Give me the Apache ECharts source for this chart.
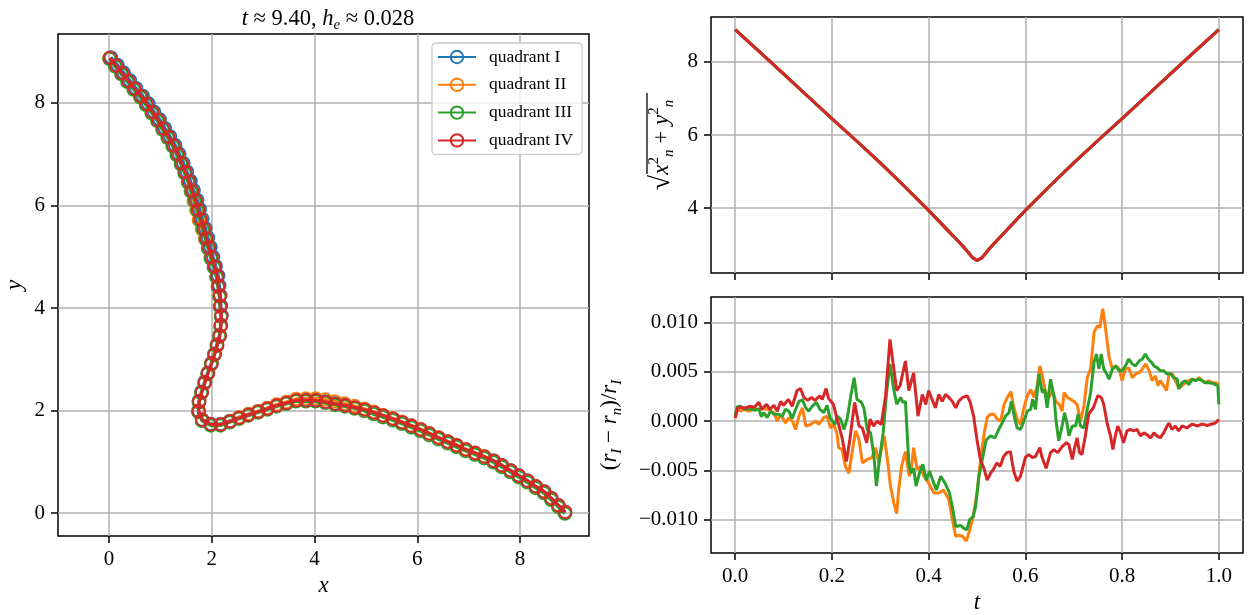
<!DOCTYPE html>
<html><head><meta charset="utf-8">
<script src="https://cdn.jsdelivr.net/npm/echarts@6/dist/echarts.min.js"></script>
<style>html,body{margin:0;padding:0;background:#fff}#c{width:1259px;height:615px}</style>
</head><body><div id="c"></div>
<script>
// ---- trajectory markers (x, y) per quadrant ----
const quadI = [[0.04,8.89],[0.17,8.74],[0.29,8.59],[0.41,8.44],[0.53,8.29],[0.66,8.14],[0.77,7.99],[0.88,7.83],[0.99,7.68],[1.09,7.51],[1.19,7.35],[1.29,7.18],[1.37,7.01],[1.45,6.83],[1.52,6.66],[1.59,6.48],[1.65,6.30],[1.72,6.11],[1.77,5.93],[1.82,5.74],[1.88,5.56],[1.93,5.37],[1.98,5.19],[2.03,5.00],[2.08,4.82],[2.13,4.63],[2.15,4.44],[2.17,4.25],[2.18,4.05],[2.19,3.86],[2.18,3.67],[2.15,3.47],[2.10,3.29],[2.05,3.11],[1.99,2.93],[1.92,2.74],[1.86,2.56],[1.80,2.37],[1.75,2.19],[1.74,2.00],[1.81,1.83],[1.98,1.74],[2.17,1.74],[2.35,1.80],[2.53,1.87],[2.71,1.93],[2.90,1.99],[3.08,2.05],[3.26,2.11],[3.45,2.16],[3.64,2.21],[3.83,2.21],[4.02,2.21],[4.21,2.18],[4.40,2.14],[4.59,2.11],[4.78,2.07],[4.97,2.03],[5.15,1.97],[5.33,1.91],[5.52,1.85],[5.70,1.78],[5.88,1.71],[6.06,1.64],[6.23,1.56],[6.41,1.48],[6.59,1.40],[6.76,1.33],[6.94,1.25],[7.12,1.18],[7.30,1.11],[7.48,1.03],[7.64,0.94],[7.81,0.84],[7.97,0.74],[8.14,0.64],[8.30,0.53],[8.46,0.43],[8.60,0.30],[8.74,0.16],[8.87,0.03]];
const quadII = [[0.01,8.87],[0.13,8.72],[0.25,8.57],[0.37,8.42],[0.49,8.27],[0.62,8.12],[0.73,7.97],[0.84,7.81],[0.95,7.66],[1.05,7.49],[1.15,7.33],[1.25,7.16],[1.33,6.99],[1.41,6.81],[1.48,6.64],[1.54,6.46],[1.59,6.28],[1.65,6.09],[1.70,5.91],[1.75,5.72],[1.81,5.54],[1.87,5.35],[1.93,5.17],[1.99,4.98],[2.05,4.80],[2.10,4.61],[2.12,4.42],[2.15,4.23],[2.16,4.03],[2.18,3.84],[2.17,3.65],[2.15,3.45],[2.10,3.27],[2.05,3.09],[1.99,2.91],[1.92,2.72],[1.86,2.54],[1.80,2.35],[1.75,2.17],[1.74,1.98],[1.81,1.81],[1.98,1.72],[2.17,1.73],[2.35,1.79],[2.53,1.87],[2.71,1.93],[2.90,1.99],[3.08,2.05],[3.26,2.12],[3.45,2.17],[3.64,2.23],[3.83,2.24],[4.02,2.24],[4.21,2.22],[4.40,2.18],[4.59,2.14],[4.78,2.09],[4.97,2.04],[5.15,1.98],[5.33,1.91],[5.52,1.85],[5.70,1.78],[5.88,1.71],[6.06,1.64],[6.23,1.56],[6.41,1.48],[6.59,1.40],[6.76,1.33],[6.94,1.25],[7.12,1.18],[7.30,1.11],[7.48,1.02],[7.64,0.93],[7.81,0.83],[7.97,0.73],[8.14,0.63],[8.30,0.52],[8.46,0.42],[8.60,0.29],[8.74,0.15],[8.87,0.02]];
const quadIII = [[0.01,8.86],[0.12,8.71],[0.24,8.56],[0.36,8.41],[0.48,8.26],[0.61,8.11],[0.72,7.96],[0.83,7.80],[0.94,7.65],[1.04,7.48],[1.14,7.32],[1.24,7.15],[1.32,6.98],[1.40,6.80],[1.47,6.63],[1.54,6.45],[1.60,6.27],[1.67,6.08],[1.72,5.90],[1.77,5.71],[1.83,5.53],[1.88,5.34],[1.93,5.16],[1.98,4.97],[2.04,4.79],[2.09,4.60],[2.12,4.41],[2.15,4.22],[2.16,4.02],[2.18,3.83],[2.17,3.64],[2.15,3.44],[2.10,3.26],[2.05,3.08],[1.99,2.90],[1.92,2.71],[1.86,2.53],[1.80,2.34],[1.75,2.16],[1.74,1.97],[1.81,1.80],[1.98,1.71],[2.17,1.71],[2.35,1.77],[2.53,1.84],[2.71,1.90],[2.90,1.96],[3.08,2.02],[3.26,2.08],[3.45,2.13],[3.64,2.18],[3.83,2.18],[4.02,2.18],[4.21,2.15],[4.40,2.11],[4.59,2.08],[4.78,2.04],[4.97,1.99],[5.15,1.93],[5.33,1.87],[5.52,1.81],[5.70,1.74],[5.88,1.67],[6.06,1.60],[6.23,1.52],[6.41,1.44],[6.59,1.36],[6.76,1.29],[6.94,1.21],[7.12,1.14],[7.30,1.07],[7.48,0.99],[7.64,0.90],[7.81,0.80],[7.97,0.70],[8.14,0.60],[8.30,0.49],[8.46,0.39],[8.60,0.26],[8.74,0.12],[8.87,-0.01]];
const quadIV = [[0.02,8.88],[0.14,8.73],[0.26,8.58],[0.38,8.43],[0.50,8.28],[0.63,8.13],[0.74,7.98],[0.85,7.82],[0.96,7.67],[1.06,7.50],[1.16,7.34],[1.26,7.17],[1.34,7.00],[1.42,6.82],[1.49,6.65],[1.56,6.47],[1.62,6.29],[1.69,6.10],[1.74,5.92],[1.79,5.73],[1.85,5.55],[1.90,5.36],[1.95,5.18],[2.00,4.99],[2.06,4.81],[2.11,4.62],[2.13,4.43],[2.16,4.24],[2.17,4.04],[2.19,3.85],[2.18,3.66],[2.16,3.46],[2.11,3.28],[2.06,3.10],[2.00,2.92],[1.93,2.73],[1.87,2.55],[1.81,2.36],[1.76,2.18],[1.75,1.99],[1.82,1.82],[1.99,1.73],[2.18,1.73],[2.36,1.79],[2.54,1.86],[2.72,1.92],[2.91,1.98],[3.09,2.04],[3.27,2.10],[3.46,2.15],[3.65,2.20],[3.84,2.20],[4.03,2.20],[4.22,2.17],[4.41,2.13],[4.60,2.10],[4.79,2.06],[4.98,2.02],[5.16,1.96],[5.34,1.90],[5.53,1.84],[5.71,1.77],[5.89,1.70],[6.07,1.63],[6.24,1.55],[6.42,1.47],[6.60,1.39],[6.77,1.32],[6.95,1.24],[7.13,1.17],[7.31,1.10],[7.49,1.02],[7.65,0.93],[7.82,0.83],[7.98,0.73],[8.15,0.63],[8.31,0.52],[8.47,0.42],[8.61,0.29],[8.75,0.15],[8.88,0.02]];

// ---- distance from origin vs time (all quadrants overlap) ----
const distTimes = [0,0.05,0.1,0.15,0.2,0.25,0.3,0.35,0.4,0.45,0.47,0.48,0.49,0.5,0.51,0.52,0.53,0.55,0.6,0.65,0.7,0.75,0.8,0.85,0.9,0.95,1.0];
const distValues = [8.88,8.28,7.67,7.06,6.45,5.85,5.24,4.6,3.94,3.25,2.97,2.82,2.66,2.57,2.64,2.8,2.96,3.24,3.94,4.6,5.24,5.85,6.45,7.06,7.67,8.28,8.88];

// ---- relative difference (r_I - r_n)/r_I vs time ----
const relII = [[0,0.35e-3],[0.004,1.2e-3],[0.011,1.0e-3],[0.018,1.2e-3],[0.028,1.0e-3],[0.039,1.2e-3],[0.052,1.2e-3],[0.066,1.25e-3],[0.08,0.85e-3],[0.087,0.0],[0.094,0.7e-3],[0.104,-0.2e-3],[0.111,0.35e-3],[0.118,0.0],[0.125,-0.85e-3],[0.132,0.5e-3],[0.139,1.35e-3],[0.146,-0.5e-3],[0.156,-0.35e-3],[0.166,0.0],[0.173,-0.35e-3],[0.183,0.35e-3],[0.19,0.5e-3],[0.197,-0.7e-3],[0.204,-0.35e-3],[0.21,-1.2e-3],[0.214,-2.7e-3],[0.221,-2.9e-3],[0.228,-4.6e-3],[0.235,-5.3e-3],[0.242,-3.1e-3],[0.249,-1.0e-3],[0.256,-1.9e-3],[0.263,-4.25e-3],[0.273,-3.9e-3],[0.283,-3.7e-3],[0.29,-2.7e-3],[0.297,-4.25e-3],[0.308,-1.5e-3],[0.314,-3.6e-3],[0.321,-6.6e-3],[0.328,-8.3e-3],[0.334,-9.4e-3],[0.338,-7.0e-3],[0.344,-4.6e-3],[0.352,-3.1e-3],[0.36,-5.6e-3],[0.364,-4.9e-3],[0.369,-2.7e-3],[0.376,-4.9e-3],[0.383,-4.6e-3],[0.39,-5.6e-3],[0.4,-6.3e-3],[0.411,-7.3e-3],[0.421,-7.3e-3],[0.431,-7.0e-3],[0.442,-8.0e-3],[0.449,-10.0e-3],[0.456,-11.7e-3],[0.463,-11.6e-3],[0.47,-11.7e-3],[0.478,-12.2e-3],[0.485,-11.05e-3],[0.492,-9.7e-3],[0.5,-7.3e-3],[0.508,-3.6e-3],[0.515,-1.2e-3],[0.521,0.35e-3],[0.528,0.7e-3],[0.535,0.7e-3],[0.542,0.2e-3],[0.549,0.0],[0.556,1.7e-3],[0.563,2.4e-3],[0.57,3.0e-3],[0.576,1.4e-3],[0.583,0.2e-3],[0.59,-0.35e-3],[0.597,1.35e-3],[0.604,2.55e-3],[0.611,3.2e-3],[0.618,2.4e-3],[0.625,3.75e-3],[0.63,5.6e-3],[0.635,4.6e-3],[0.642,2.9e-3],[0.649,2.4e-3],[0.656,3.1e-3],[0.663,2.0e-3],[0.67,1.7e-3],[0.676,1.0e-3],[0.68,2.9e-3],[0.687,2.4e-3],[0.694,2.2e-3],[0.7,2.0e-3],[0.707,1.7e-3],[0.714,0.0],[0.721,1.5e-3],[0.728,4.4e-3],[0.735,5.3e-3],[0.742,9.0e-3],[0.749,9.7e-3],[0.754,9.5e-3],[0.76,11.4e-3],[0.766,9.35e-3],[0.773,6.5e-3],[0.78,5.3e-3],[0.787,5.6e-3],[0.794,5.3e-3],[0.8,4.1e-3],[0.807,5.3e-3],[0.814,5.4e-3],[0.821,4.4e-3],[0.828,4.8e-3],[0.835,4.9e-3],[0.842,5.3e-3],[0.849,5.8e-3],[0.856,5.1e-3],[0.862,4.1e-3],[0.869,4.6e-3],[0.874,3.6e-3],[0.879,4.1e-3],[0.886,3.6e-3],[0.892,3.1e-3],[0.897,4.8e-3],[0.904,4.8e-3],[0.91,4.1e-3],[0.917,3.4e-3],[0.924,3.6e-3],[0.931,3.9e-3],[0.938,4.1e-3],[0.945,4.25e-3],[0.952,4.1e-3],[0.959,4.4e-3],[0.966,4.1e-3],[0.972,3.9e-3],[0.979,4.1e-3],[0.986,3.9e-3],[0.993,3.9e-3],[1.0,3.7e-3]];
const relIII = [[0,0.5e-3],[0.004,1.45e-3],[0.011,1.5e-3],[0.021,1.2e-3],[0.031,1.25e-3],[0.042,1.1e-3],[0.049,1.25e-3],[0.054,0.45e-3],[0.059,0.85e-3],[0.066,0.35e-3],[0.073,1.0e-3],[0.08,0.7e-3],[0.09,0.7e-3],[0.097,0.45e-3],[0.104,1.2e-3],[0.111,1.0e-3],[0.118,0.25e-3],[0.125,1.2e-3],[0.132,2.0e-3],[0.139,2.15e-3],[0.146,1.35e-3],[0.152,1.0e-3],[0.159,1.5e-3],[0.168,1.9e-3],[0.175,1.2e-3],[0.183,0.85e-3],[0.19,1.6e-3],[0.196,0.35e-3],[0.2,0.2e-3],[0.206,-0.35e-3],[0.211,0.5e-3],[0.218,0.2e-3],[0.225,-0.85e-3],[0.232,0.35e-3],[0.239,2.55e-3],[0.246,4.4e-3],[0.252,2.2e-3],[0.261,1.9e-3],[0.266,1.35e-3],[0.273,-0.85e-3],[0.28,-1.2e-3],[0.287,-3.6e-3],[0.292,-6.6e-3],[0.299,-3.6e-3],[0.306,-1.2e-3],[0.313,2.9e-3],[0.32,5.8e-3],[0.328,3.2e-3],[0.334,1.7e-3],[0.342,2.4e-3],[0.347,1.9e-3],[0.352,2.0e-3],[0.359,-4.25e-3],[0.363,-5.3e-3],[0.369,-4.8e-3],[0.374,-6.6e-3],[0.381,-5.3e-3],[0.388,-4.4e-3],[0.395,-6.0e-3],[0.402,-5.1e-3],[0.409,-6.1e-3],[0.416,-7.0e-3],[0.425,-5.6e-3],[0.434,-6.3e-3],[0.443,-7.3e-3],[0.449,-8.7e-3],[0.456,-10.7e-3],[0.466,-10.6e-3],[0.473,-10.9e-3],[0.479,-11.05e-3],[0.485,-10.0e-3],[0.492,-9.7e-3],[0.497,-8.7e-3],[0.504,-5.6e-3],[0.511,-3.9e-3],[0.519,-1.9e-3],[0.528,-1.5e-3],[0.537,-1.7e-3],[0.545,-0.85e-3],[0.552,-0.2e-3],[0.559,0.5e-3],[0.566,0.85e-3],[0.571,2.0e-3],[0.577,0.5e-3],[0.583,-0.7e-3],[0.59,-0.85e-3],[0.597,0.0],[0.604,1.0e-3],[0.611,1.2e-3],[0.615,2.2e-3],[0.621,1.2e-3],[0.628,4.8e-3],[0.635,2.9e-3],[0.64,3.2e-3],[0.645,1.35e-3],[0.652,4.25e-3],[0.659,2.55e-3],[0.664,-0.2e-3],[0.669,-2.0e-3],[0.676,-0.5e-3],[0.681,0.85e-3],[0.686,-0.2e-3],[0.69,-1.5e-3],[0.697,-0.5e-3],[0.704,-0.5e-3],[0.709,0.7e-3],[0.714,-0.5e-3],[0.721,-0.7e-3],[0.728,1.2e-3],[0.735,2.9e-3],[0.742,6.0e-3],[0.747,6.8e-3],[0.752,5.3e-3],[0.757,6.8e-3],[0.762,5.3e-3],[0.768,4.8e-3],[0.773,4.25e-3],[0.78,5.3e-3],[0.787,5.6e-3],[0.794,5.1e-3],[0.8,5.1e-3],[0.807,5.6e-3],[0.814,6.3e-3],[0.821,5.8e-3],[0.828,5.6e-3],[0.835,6.1e-3],[0.842,6.3e-3],[0.848,6.8e-3],[0.854,6.3e-3],[0.86,6.0e-3],[0.866,5.6e-3],[0.873,5.4e-3],[0.879,5.1e-3],[0.886,5.1e-3],[0.893,4.8e-3],[0.9,4.8e-3],[0.907,4.4e-3],[0.914,4.25e-3],[0.917,3.25e-3],[0.924,3.9e-3],[0.931,4.1e-3],[0.938,3.7e-3],[0.945,4.25e-3],[0.952,4.1e-3],[0.959,4.25e-3],[0.966,4.1e-3],[0.972,3.9e-3],[0.979,3.9e-3],[0.986,3.85e-3],[0.993,3.7e-3],[0.998,3.6e-3],[1.0,1.7e-3]];
const relIV = [[0,0.3e-3],[0.005,1.3e-3],[0.01,1.4e-3],[0.02,1.3e-3],[0.03,1.5e-3],[0.04,1.4e-3],[0.049,1.9e-3],[0.055,1.2e-3],[0.065,1.7e-3],[0.072,1.2e-3],[0.08,1.6e-3],[0.087,1.0e-3],[0.094,2.0e-3],[0.1,1.6e-3],[0.11,2.2e-3],[0.118,1.5e-3],[0.128,3.1e-3],[0.135,3.3e-3],[0.142,2.4e-3],[0.15,2.1e-3],[0.158,2.4e-3],[0.165,2.1e-3],[0.175,2.55e-3],[0.18,2.2e-3],[0.188,3.3e-3],[0.193,2.3e-3],[0.197,2.4e-3],[0.203,1.7e-3],[0.21,0.35e-3],[0.214,-0.35e-3],[0.221,-1.7e-3],[0.23,-4.1e-3],[0.237,-1.9e-3],[0.247,1.9e-3],[0.256,-0.5e-3],[0.263,-0.7e-3],[0.272,-2.2e-3],[0.279,0.2e-3],[0.286,-0.5e-3],[0.294,0.0],[0.302,-0.35e-3],[0.311,2.55e-3],[0.32,8.3e-3],[0.328,5.3e-3],[0.334,3.1e-3],[0.341,3.6e-3],[0.345,3.6e-3],[0.352,6.1e-3],[0.359,3.1e-3],[0.369,4.9e-3],[0.378,0.5e-3],[0.387,2.7e-3],[0.394,1.7e-3],[0.4,3.1e-3],[0.407,2.2e-3],[0.414,1.35e-3],[0.421,2.7e-3],[0.428,2.0e-3],[0.435,2.7e-3],[0.442,2.4e-3],[0.449,2.0e-3],[0.456,1.35e-3],[0.462,2.0e-3],[0.47,2.4e-3],[0.48,2.55e-3],[0.486,1.9e-3],[0.493,0.5e-3],[0.5,-1.9e-3],[0.507,-3.9e-3],[0.515,-4.9e-3],[0.521,-6.0e-3],[0.528,-5.3e-3],[0.534,-4.9e-3],[0.541,-4.25e-3],[0.548,-4.6e-3],[0.555,-3.6e-3],[0.562,-3.2e-3],[0.569,-3.1e-3],[0.576,-5.1e-3],[0.583,-6.1e-3],[0.59,-5.6e-3],[0.6,-3.7e-3],[0.607,-3.4e-3],[0.614,-3.7e-3],[0.621,-3.6e-3],[0.63,-2.7e-3],[0.634,-3.6e-3],[0.643,-4.8e-3],[0.652,-3.2e-3],[0.659,-2.9e-3],[0.667,-3.2e-3],[0.676,-2.6e-3],[0.685,-2.2e-3],[0.69,-2.4e-3],[0.697,-3.9e-3],[0.701,-2.9e-3],[0.707,-1.7e-3],[0.712,-3.2e-3],[0.717,-3.4e-3],[0.724,-1.5e-3],[0.731,0.7e-3],[0.741,1.4e-3],[0.75,2.6e-3],[0.757,2.4e-3],[0.762,1.7e-3],[0.769,-0.2e-3],[0.776,-1.5e-3],[0.781,-2.9e-3],[0.786,-1.5e-3],[0.791,-0.5e-3],[0.797,-1.2e-3],[0.803,-2.2e-3],[0.81,-1.0e-3],[0.817,-0.85e-3],[0.824,-1.0e-3],[0.831,-0.85e-3],[0.838,-1.5e-3],[0.845,-1.2e-3],[0.852,-1.4e-3],[0.859,-1.7e-3],[0.866,-1.2e-3],[0.872,-1.5e-3],[0.879,-1.7e-3],[0.886,-1.2e-3],[0.893,-0.5e-3],[0.897,-0.2e-3],[0.903,-0.85e-3],[0.91,-0.5e-3],[0.917,-1.0e-3],[0.924,-0.5e-3],[0.934,-0.7e-3],[0.945,-0.3e-3],[0.955,-0.5e-3],[0.966,-0.3e-3],[0.976,-0.45e-3],[0.986,-0.3e-3],[0.993,-0.2e-3],[1.0,0.15e-3]];

// ---- tick values ----
const xyTicks = [0, 2, 4, 6, 8];
const tTicks = [0, 0.2, 0.4, 0.6, 0.8, 1.0];
const distTicks = [4, 6, 8];
const relTicks = [-0.01, -0.005, 0, 0.005, 0.01];

const names = ['quadrant I', 'quadrant II', 'quadrant III', 'quadrant IV'];
const colors = ['#1f77b4', '#ff7f0e', '#2ca02c', '#d62728'];

const FONT = 'Liberation Serif';
const gridLine = { show: true, lineStyle: { color: '#b0b0b0', width: 1.5 } };
const tick = { show: true, inside: false, length: 7, lineStyle: { color: '#000', width: 1.5 } };
const label = (fmt) => ({ show: true, margin: 13, fontFamily: FONT, fontSize: 21, color: '#000', formatter: fmt });
const minus = (s) => s.replace('-', '\u2212');

function axis(extra) {
  return Object.assign({
    type: 'value', axisLine: { show: false, onZero: false }, splitLine: gridLine
  }, extra);
}

const chart = echarts.init(document.getElementById('c'), null, { renderer: 'canvas' });

const distData = distTimes.map((t, i) => [t, distValues[i]]);
const traj = [quadI, quadII, quadIII, quadIV];
const rel = [null, relII, relIII, relIV];

const series = [];
traj.forEach((d, i) => series.push({
  type: 'line', name: names[i], xAxisIndex: 0, yAxisIndex: 0, data: d,
  symbol: 'circle', symbolSize: 12.5, showSymbol: true, showAllSymbol: true,
  color: colors[i],
  lineStyle: { width: 3, color: colors[i] },
  itemStyle: { color: 'rgba(255,255,255,0)', borderColor: colors[i], borderWidth: 1.8 },
  emphasis: { disabled: true }, z: 2 + i
}));
traj.forEach((d, i) => series.push({
  type: 'line', name: names[i], xAxisIndex: 1, yAxisIndex: 1, data: distData,
  showSymbol: false, color: colors[i], lineStyle: { width: 3, color: colors[i] },
  emphasis: { disabled: true }, z: 2 + i
}));
[1, 2, 3].forEach(i => series.push({
  type: 'line', name: names[i], xAxisIndex: 2, yAxisIndex: 2, data: rel[i],
  showSymbol: false, color: colors[i], lineStyle: { width: 3, color: colors[i] },
  emphasis: { disabled: true }, z: 2 + i
}));

const option = {
  animation: false,
  backgroundColor: '#fff',
  title: {
    text: '{i|t} ≈ 9.40, {i|h}{s|e} ≈ 0.028',
    left: 323, top: 0, textAlign: 'center',
    textStyle: {
      fontFamily: FONT, fontSize: 22.5, fontWeight: 'normal', color: '#000',
      rich: {
        i: { fontFamily: FONT, fontStyle: 'italic', fontSize: 22.5, color: '#000' },
        s: { fontFamily: FONT, fontStyle: 'italic', fontSize: 15, color: '#000', verticalAlign: 'bottom', lineHeight: 28 }
      }
    }
  },
  legend: {
    data: names, left: 432, top: 43, orient: 'vertical', selectedMode: false,
    itemWidth: 38, itemHeight: 15.5, itemGap: 9.8,
    padding: [5, 9, 5, 5],
    backgroundColor: 'rgba(255,255,255,0.8)', borderColor: '#cccccc', borderWidth: 1.3, borderRadius: 4,
    textStyle: { fontFamily: FONT, fontSize: 17.5, color: '#000', padding: [0, 0, 0, 8] }
  },
  graphic: [
    { type: 'line', z: 100, shape: { x1: 647, y1: 93, x2: 647, y2: 174 }, style: { stroke: '#000', lineWidth: 1.3 } }
  ],
  grid: [
    { left: 58, top: 34, width: 531, height: 502, show: true, borderColor: '#000', borderWidth: 1.5, backgroundColor: 'transparent' },
    { left: 711, top: 17, width: 532, height: 256, show: true, borderColor: '#000', borderWidth: 1.5, backgroundColor: 'transparent' },
    { left: 711, top: 297, width: 532, height: 256, show: true, borderColor: '#000', borderWidth: 1.5, backgroundColor: 'transparent' }
  ],
  xAxis: [
    axis({ gridIndex: 0, min: -0.99, max: 9.34,
      axisTick: Object.assign({ customValues: xyTicks }, tick),
      axisLabel: Object.assign({ customValues: xyTicks }, label(v => String(Math.round(v)))),
      name: 'x', nameLocation: 'middle', nameGap: 37,
      nameTextStyle: { fontFamily: FONT, fontStyle: 'italic', fontSize: 23, color: '#000' } }),
    axis({ gridIndex: 1, min: -0.05, max: 1.05,
      axisTick: Object.assign({ customValues: tTicks }, tick),
      axisLabel: { show: false, customValues: tTicks } }),
    axis({ gridIndex: 2, min: -0.05, max: 1.05,
      axisTick: Object.assign({ customValues: tTicks }, tick),
      axisLabel: Object.assign({ customValues: tTicks }, label(v => v.toFixed(1))),
      name: 't', nameLocation: 'middle', nameGap: 38,
      nameTextStyle: { fontFamily: FONT, fontStyle: 'italic', fontSize: 23, color: '#000' } })
  ],
  yAxis: [
    axis({ gridIndex: 0, min: -0.445, max: 9.345,
      axisTick: Object.assign({ customValues: xyTicks }, tick),
      axisLabel: Object.assign({ customValues: xyTicks }, label(v => String(Math.round(v)))),
      name: 'y', nameLocation: 'middle', nameGap: 32,
      nameTextStyle: { fontFamily: FONT, fontStyle: 'italic', fontSize: 23, color: '#000' } }),
    axis({ gridIndex: 1, min: 2.227, max: 9.227,
      axisTick: Object.assign({ customValues: distTicks }, tick),
      axisLabel: Object.assign({ customValues: distTicks }, label(v => String(Math.round(v)))),
      name: '{rad|√}{i|x}{sup|2}{sub|n}{o| + }{i|y}{sup|2}{sub|n}', nameLocation: 'middle', nameGap: 34,
      nameTextStyle: { fontFamily: FONT, fontSize: 22, color: '#000',
        rich: {
          rad: { fontFamily: FONT, fontSize: 28, color: '#000' },
          i: { fontFamily: FONT, fontStyle: 'italic', fontSize: 23, color: '#000' },
          o: { fontFamily: FONT, fontSize: 23, color: '#000' },
          sup: { fontFamily: FONT, fontSize: 15, color: '#000', verticalAlign: 'top', lineHeight: 30 },
          sub: { fontFamily: FONT, fontStyle: 'italic', fontSize: 15, color: '#000', verticalAlign: 'bottom', lineHeight: 30 }
        } } }),
    axis({ gridIndex: 2, min: -0.0134, max: 0.0126,
      axisTick: Object.assign({ customValues: relTicks }, tick),
      axisLabel: Object.assign({ customValues: relTicks }, label(v => minus(v.toFixed(3)))),
      name: '({i|r}{s|I} − {i|r}{s|n})/{i|r}{s|I}', nameLocation: 'middle', nameGap: 86,
      nameTextStyle: { fontFamily: FONT, fontSize: 23, color: '#000',
        rich: {
          i: { fontFamily: FONT, fontStyle: 'italic', fontSize: 23, color: '#000' },
          s: { fontFamily: FONT, fontStyle: 'italic', fontSize: 15, color: '#000', verticalAlign: 'bottom', lineHeight: 30 }
        } } })
  ],
  series: series
};
chart.setOption(option);
</script>
</body></html>
